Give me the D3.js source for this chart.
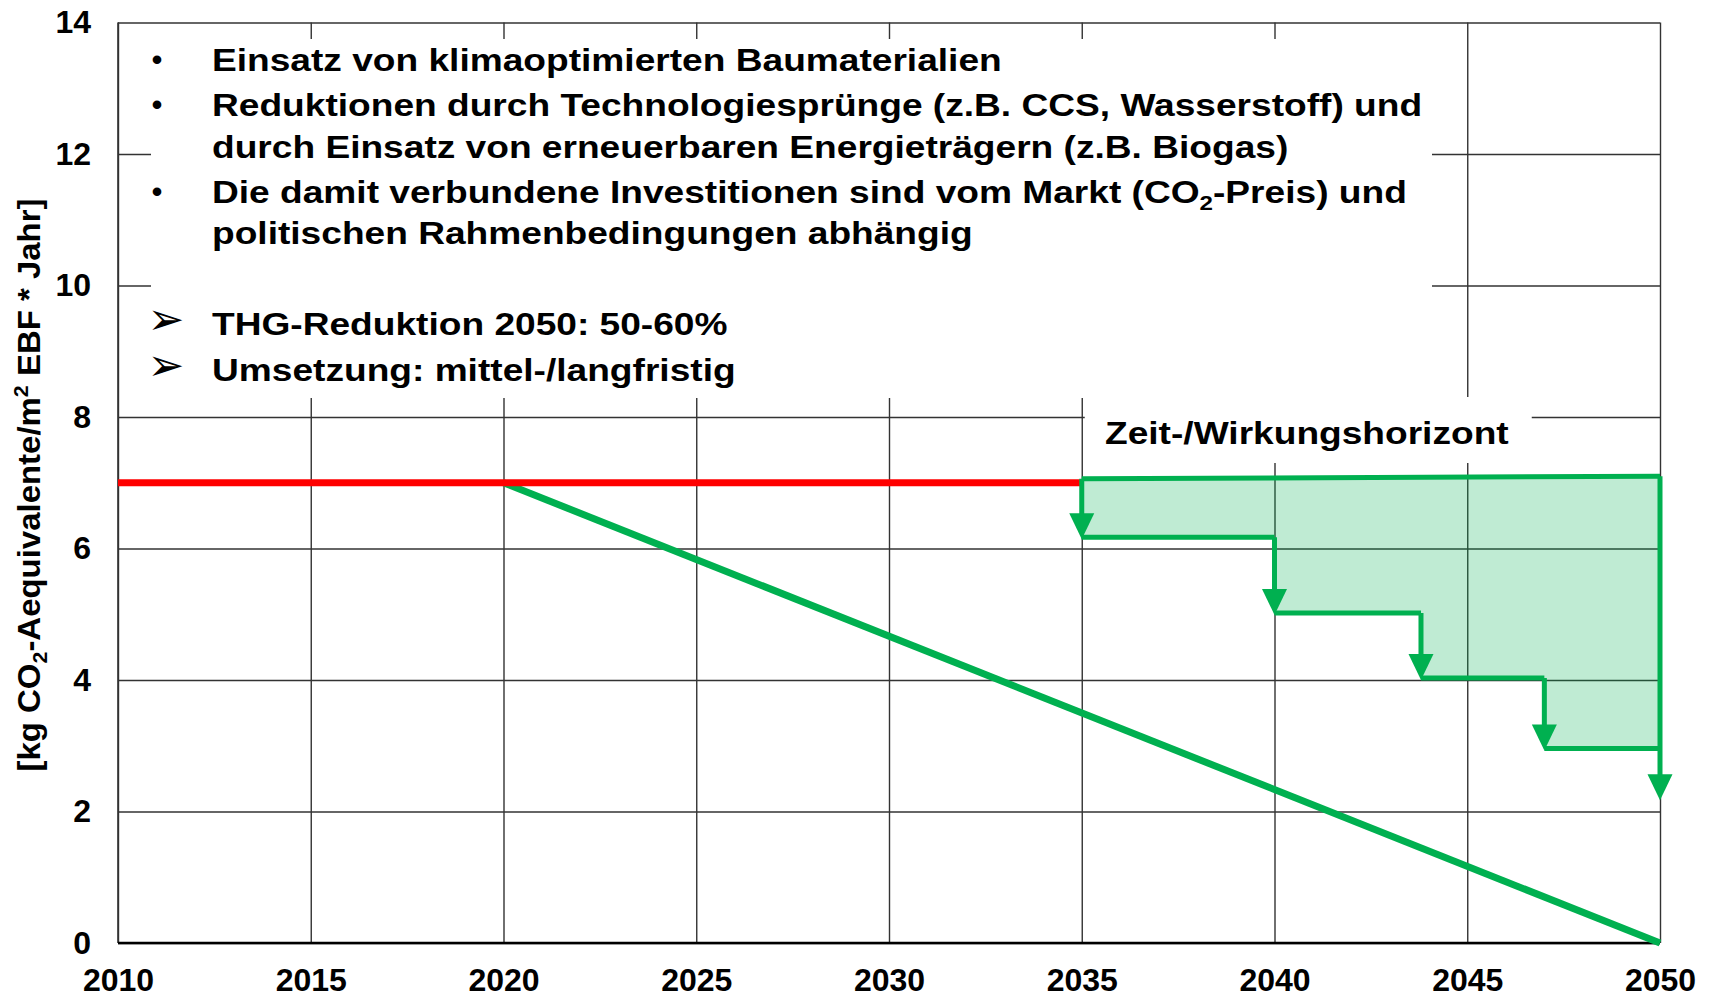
<!DOCTYPE html>
<html>
<head>
<meta charset="utf-8">
<script src="https://cdn.jsdelivr.net/npm/d3@7"></script>
<style>
  body { margin: 0; background: #fff; }
  svg { display: block; background: #fff; }
  text { font-family: "Liberation Sans", Arial, sans-serif; font-weight: bold; fill: #000; }
</style>
</head>
<body>
<svg width="1716" height="998"></svg>
<script>
// ticks
const xTicks = [2010, 2015, 2020, 2025, 2030, 2035, 2040, 2045, 2050];
const yTicks = [0, 2, 4, 6, 8, 10, 12, 14];

// red: current level, green: linear path to zero
const baseYears = [2010, 2035];
const baseValues = [7.0, 7.0];
const pathYears = [2020, 2050];
const pathValues = [7.0, 0];

// Zeit-/Wirkungshorizont (steps)
const horizonYears = [2035, 2050];
const horizonTop = [7.06, 7.1];
const dropYears = [2035, 2040, 2043.8, 2047, 2050];
const dropLevels = [6.17, 5.02, 4.03, 2.96, 2.2];

// texts
const yTitle = ['[kg CO', '_2', '-Aequivalente/m', '^2', ' EBF * Jahr]'];
const horizonLabel = 'Zeit-/Wirkungshorizont';
const textLines = [
  { mark: '•', parts: ['Einsatz von klimaoptimierten Baumaterialien'] },
  { mark: '•', parts: ['Reduktionen durch Technologiesprünge (z.B. CCS, Wasserstoff) und'] },
  { mark: '', parts: ['durch Einsatz von erneuerbaren Energieträgern (z.B. Biogas)'] },
  { mark: '•', parts: ['Die damit verbundene Investitionen sind vom Markt (CO', '_2', '-Preis) und'] },
  { mark: '', parts: ['politischen Rahmenbedingungen abhängig'] },
  { mark: '➢', parts: ['THG-Reduktion 2050: 50-60%'] },
  { mark: '➢', parts: ['Umsetzung: mittel-/langfristig'] }
];

const green = '#00b050',
      red = '#ff0000';

const svg = d3.select('svg'),
      mLeft = 118, mRight = 1660, mTop = 22.5, mBottom = 943;

const x = d3.scaleLinear().domain([2010, 2050]).range([mLeft, mRight]);
const y = d3.scaleLinear().domain([0, 14]).range([mBottom, mTop]);
const line = d3.line().x(d => x(d[0])).y(d => y(d[1]));

// grid + labels via axes
const xAxis = svg.append('g')
    .attr('transform', `translate(0,${mBottom})`)
    .call(d3.axisBottom(x).tickValues(xTicks).tickFormat(d3.format('d'))
      .tickSize(-(mBottom - mTop)).tickPadding(25));
const yAxis = svg.append('g')
    .attr('transform', `translate(${mLeft},0)`)
    .call(d3.axisLeft(y).tickValues(yTicks).tickSize(-(mRight - mLeft)).tickPadding(27));

[xAxis, yAxis].forEach(a => {
  a.select('.domain').remove();
  a.selectAll('.tick line').attr('stroke', '#333').attr('stroke-width', 1.4);
  a.selectAll('.tick text')
    .style('font-family', '"Liberation Sans", Arial, sans-serif')
    .style('font-weight', 'bold')
    .style('font-size', '32px')
    .attr('fill', '#000');
});

// left border + x axis line
svg.append('line')
    .attr('x1', mLeft).attr('x2', mLeft).attr('y1', mTop).attr('y2', mBottom)
    .attr('stroke', '#333').attr('stroke-width', 1.6);
svg.append('line')
    .attr('x1', mLeft).attr('x2', mRight).attr('y1', y(0)).attr('y2', y(0))
    .attr('stroke', '#000').attr('stroke-width', 2.6);

// white boxes behind text
svg.append('rect')
    .attr('x', 151).attr('y', 39).attr('width', 1281).attr('height', 359)
    .attr('fill', '#fff');
svg.append('rect')
    .attr('x', x(2035) + 3).attr('y', 397).attr('width', 447).attr('height', 66)
    .attr('fill', '#fff');

// shaded step polygon
const poly = [[horizonYears[0], horizonTop[0]], [horizonYears[1], horizonTop[1]], [2050, dropLevels[3]]];
for (let i = 3; i >= 0; i--) {
  poly.push([dropYears[i], dropLevels[i]]);
  poly.push([dropYears[i], i > 0 ? dropLevels[i - 1] : horizonTop[0]]);
}
svg.append('path')
    .attr('d', line(poly) + 'Z')
    .attr('fill', green).attr('fill-opacity', 0.25);

// diagonal green path
svg.append('path')
    .attr('d', line(pathYears.map((d, i) => [d, pathValues[i]])))
    .attr('stroke', green).attr('stroke-width', 7).attr('fill', 'none');

// red line
svg.append('path')
    .attr('d', line(baseYears.map((d, i) => [d, baseValues[i]])))
    .attr('stroke', red).attr('stroke-width', 7).attr('fill', 'none');

// step outline
const arrowH = 26, arrowW = 25;
const steps = svg.append('g').attr('fill', 'none').attr('stroke', green)
    .attr('stroke-width', 5).attr('stroke-linejoin', 'miter');
steps.append('path')
    .attr('d', line(horizonYears.map((d, i) => [d, horizonTop[i]])));
dropYears.forEach((yr, i) => {
  const from = i === 0 ? horizonTop[0] : (yr === 2050 ? horizonTop[1] : dropLevels[i - 1]);
  let d = `M${x(yr)},${y(from)}V${y(dropLevels[i]) - arrowH + 4}`;
  if (i < 4) {
    const nx = i < 3 ? x(dropYears[i + 1]) : x(2050);
    d += `M${x(yr)},${y(dropLevels[i])}H${nx}`;
  }
  steps.append('path').attr('d', d);
});
svg.selectAll('path.arrow')
  .data(dropYears.map((d, i) => [d, dropLevels[i]]))
  .enter()
  .append('path')
    .attr('class', 'arrow')
    .attr('d', d => {
      const tx = x(d[0]), ty = y(d[1]) + 2;
      return `M${tx - arrowW / 2},${ty - arrowH}L${tx + arrowW / 2},${ty - arrowH}L${tx},${ty}Z`;
    })
    .attr('fill', green);

// helper for text with sub/superscripts (shift is undone on the next part)
function addParts(sel, parts, size) {
  let back = 0;
  parts.forEach(p => {
    if (p[0] === '_' || p[0] === '^') {
      const shift = p[0] === '_' ? size * 0.22 : -size * 0.38;
      sel.append('tspan').attr('dy', back + shift)
        .style('font-size', (size * 0.65) + 'px').text(p.slice(1));
      back = -shift;
    } else {
      const ts = sel.append('tspan').text(p);
      if (back) ts.attr('dy', back);
      back = 0;
    }
  });
}

// y title
const yt = svg.append('text')
    .attr('transform', 'translate(40,485) rotate(-90) scale(1.03,1)')
    .attr('text-anchor', 'middle')
    .style('font-size', '32px');
addParts(yt, yTitle, 32);

// text block
const baselines = [71, 116, 158, 203, 244, 335, 381];
const fontSize = 32, stretch = 1.16;
const block = svg.append('g').attr('transform', `translate(212,0) scale(${stretch},1)`);
textLines.forEach((ln, i) => {
  const t = block.append('text').attr('x', 0).attr('y', baselines[i]).style('font-size', fontSize + 'px');
  addParts(t, ln.parts, fontSize);
  if (ln.mark === '•') {
    svg.append('text').attr('x', 157).attr('y', baselines[i] - 1)
      .attr('text-anchor', 'middle').style('font-size', '30px').text(ln.mark);
  } else if (ln.mark) {
    svg.append('text').attr('x', 166).attr('y', baselines[i] - 1)
      .attr('text-anchor', 'middle')
      .style('font-family', '"DejaVu Sans", sans-serif').style('font-weight', 'normal')
      .style('font-size', '44px').text(ln.mark);
  }
});

svg.append('text')
    .attr('transform', `translate(1105,444) scale(${stretch},1)`)
    .style('font-size', fontSize + 'px')
    .text(horizonLabel);
</script>
</body>
</html>
